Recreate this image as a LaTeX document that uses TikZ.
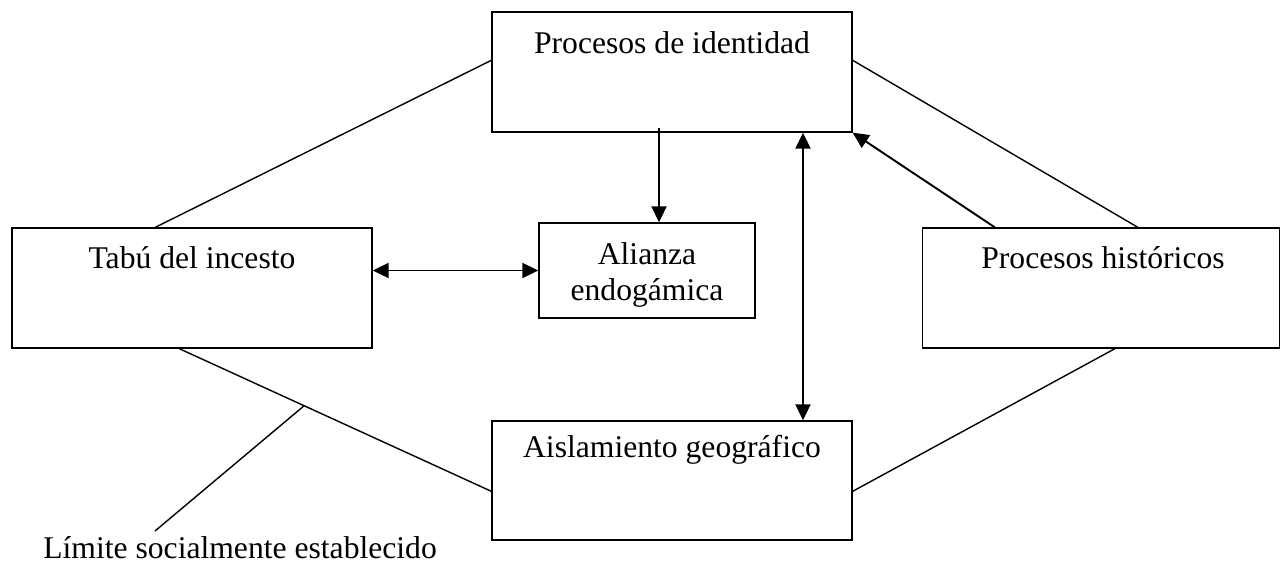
\documentclass[tikz,border=0pt]{standalone}
\usepackage{fontspec}
\setmainfont{Liberation Serif}
\usetikzlibrary{arrows.meta, calc}
\tikzset{
    caja/.style   ={draw, line width=0.8pt, minimum width=7.2cm, minimum height=2.4cm,
                    inner sep=0pt},
    texto/.style  ={font=\fontsize{18}{20.7}\selectfont, align=center, inner sep=0pt},
    enlace/.style ={line width=0.8pt},
    flecha/.style ={-{Triangle[length=0.32cm, width=0.3cm]}, line width=1.1pt},
    doble/.style  ={{Triangle[length=0.32cm, width=0.3cm]}-{Triangle[length=0.32cm, width=0.3cm]},
                    line width=1.1pt},
}

\begin{document}
\begin{tikzpicture}[x=0.02cm, y=-0.02cm]
\useasboundingbox (0,0) rectangle (1281,565);

% ===================== Cajas =====================
\node[caja] (ident) at (672,72) {};
\node[texto] (tident) at (672,43) {Procesos de identidad};
\node[caja] (tabu) at (192,288) {};
\node[texto] (ttabu) at (192,258) {Tabú del incesto};
\node[caja, minimum width=4.32cm, minimum height=1.9cm] (alianza) at (647,270.5) {};
\node[texto] (talianza) at (647,275) {Alianza\\endogámica};
\node[caja, minimum width=7.14cm] (hist) at (1101,288) {};
\node[texto] (thist) at (1103,258) {Procesos históricos};
\node[caja, minimum height=2.38cm] (aisl) at (672,480.5) {};
\node[texto] (taisl) at (672,450) {Aislamiento geográfico};

% ===================== Contorno =====================
\draw[enlace] ($(tabu.north west)+(144,0)$) -- ($(ident.north west)+(0,49)$);
\draw[enlace] ($(ident.north east)+(0,49)$) -- ($(hist.north west)+(216,0)$);
\draw[enlace] ($(tabu.south west)+(168,0)$) -- ($(aisl.north west)+(0,71)$)
      coordinate[pos=0.4] (corte);
\draw[enlace] ($(aisl.north east)+(0,71)$) -- ($(hist.south west)+(193,0)$);

% ===================== Flechas =====================
\draw[flecha] ($(ident.south)+(-13,-5)$) -- ($(alianza.north)+(12,0)$);
\draw[doble]  (tabu.east |- alianza.west) -- (alianza.west);
\draw[doble]  ($(ident.south)+(131,0)$) -- ($(aisl.north)+(131,0)$);
\draw[flecha] ($(hist.north west)+(73,0)$) -- (ident.south east);

% ===================== Limite =====================
\node[texto, anchor=west] (limite) at (43,548) {Límite socialmente establecido};
\coordinate (pie) at (155,531);
\draw[enlace] (pie) -- (corte);

\end{tikzpicture}
\end{document}
